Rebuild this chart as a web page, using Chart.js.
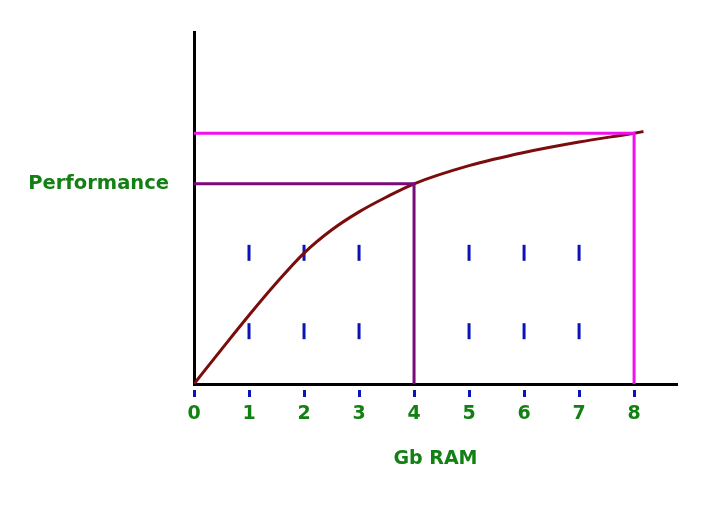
<!DOCTYPE html>
<html>
<head>
<meta charset="utf-8">
<script src="https://cdn.jsdelivr.net/npm/chart.js@4/dist/chart.umd.min.js"></script>
<style>
  html, body { margin: 0; padding: 0; background: #fff; }
  #wrap { width: 719px; height: 522px; }
</style>
</head>
<body>
<div id="wrap"><canvas id="chart"></canvas></div>
<script>
// values (y in "performance" units, same pixel scale as x)
const ramTicks = [0, 1, 2, 3, 4, 5, 6, 7, 8];
const curveX = [0, 0.5, 1, 1.5, 2, 2.5, 3, 3.5, 4, 5, 6, 7, 8, 8.17];
const curveY = [0, 0.63, 1.25, 1.84, 2.38, 2.8, 3.13, 3.4, 3.64, 3.97, 4.21, 4.4, 4.56, 4.59];
const level4 = 3.64;
const level8 = 4.56;
const markX = [1, 2, 3, 5, 6, 7];
const markRows = [0.96, 2.385];
const xMax = 8.78;
const yMax = 6.4;

const green = "#138013";
const blue = "#0a14b4";

const toPoints = (xs, ys) => xs.map((x, i) => ({ x: x, y: ys[i] }));
const marks = [];
markRows.forEach((r) => markX.forEach((x) => marks.push({ x: x, y: r })));

const ctx = document.getElementById("chart");
new Chart(ctx, {
  type: "scatter",
  data: {
    datasets: [
      {
        label: "8 Gb",
        data: [{ x: 0, y: level8 }, { x: 8, y: level8 }, { x: 8, y: 0 }],
        showLine: true,
        borderColor: "#f010f0",
        borderWidth: 3,
        pointRadius: 0,
        tension: 0,
      },
      {
        label: "4 Gb",
        data: [{ x: 0, y: level4 }, { x: 4, y: level4 }, { x: 4, y: 0 }],
        showLine: true,
        borderColor: "#7a0a7a",
        borderWidth: 3,
        pointRadius: 0,
        tension: 0,
      },
      {
        label: "Performance",
        data: toPoints(curveX, curveY),
        showLine: true,
        borderColor: "#7a0c0c",
        borderWidth: 3,
        pointRadius: 0,
        cubicInterpolationMode: "monotone",
      },
      {
        label: "marks",
        data: marks,
        showLine: false,
        pointStyle: "line",
        rotation: 90,
        radius: 8,
        borderColor: blue,
        borderWidth: 3,
      },
    ],
  },
  options: {
    responsive: true,
    maintainAspectRatio: false,
    animation: false,
    layout: { padding: { top: 32, right: 42, left: 0, bottom: 0 } },
    plugins: { legend: { display: false }, tooltip: { enabled: false } },
    scales: {
      x: {
        type: "linear",
        min: 0,
        max: xMax,
        afterBuildTicks: (scale) => {
          scale.ticks = ramTicks.map((v) => ({ value: v }));
        },
        afterFit: (scale) => {
          scale.height = 138;
        },
        grid: {
          drawOnChartArea: false,
          drawTicks: true,
          tickLength: 13,
          tickColor: blue,
          tickWidth: 3,
          tickBorderDash: [0, 4, 9, 20],
        },
        border: { display: true, color: "#000", width: 3 },
        ticks: {
          color: green,
          padding: 6,
          font: { family: "DejaVu Sans", weight: "bold", size: 19 },
          callback: (v) => String(v),
        },
        title: {
          display: true,
          text: "Gb RAM",
          color: green,
          font: { family: "DejaVu Sans", weight: "bold", size: 19 },
          padding: { top: 0, bottom: 52 },
        },
      },
      y: {
        type: "linear",
        min: 0,
        max: yMax,
        afterBuildTicks: (scale) => {
          scale.ticks = [{ value: level4 }];
        },
        afterFit: (scale) => {
          scale.width = 194;
          scale.paddingTop = 0;
          scale.paddingBottom = 0;
        },
        grid: { drawOnChartArea: false, drawTicks: false },
        border: { display: true, color: "#000", width: 3 },
        ticks: {
          color: green,
          padding: 25,
          font: { family: "DejaVu Sans", weight: "bold", size: 19.5 },
          callback: () => "Performance",
        },
      },
    },
  },
});
</script>
</body>
</html>
